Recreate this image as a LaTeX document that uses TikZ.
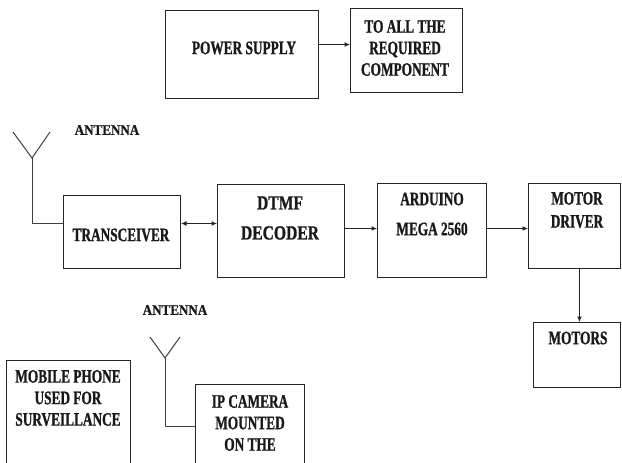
\documentclass[tikz,border=0pt]{standalone}
\usepackage{fontspec}
\usetikzlibrary{arrows.meta,calc}
\newfontfamily\bfont{Liberation Serif Bold}[FakeStretch=0.7,FakeBold=1]
\newfontfamily\dfont{Liberation Serif Bold}[FakeStretch=0.78,FakeBold=1]
\newfontfamily\afont{Liberation Serif Bold}[FakeStretch=0.9,FakeBold=0.8]
\begin{document}
\begin{tikzpicture}[x=1pt,y=-1pt,
  box/.style={draw=black!85,line width=1pt,rectangle,anchor=north west,inner sep=0pt},
  txt/.style={align=center,inner sep=0pt,text=black!90,font=\bfont\fontsize{19}{21.5}\selectfont},
  dtxt/.style={align=center,inner sep=0pt,text=black!90,font=\dfont\fontsize{20}{30}\selectfont},
  atxt/.style={inner sep=0pt,text=black!90,font=\afont\fontsize{14.5}{16}\selectfont},
  arr/.style={draw=black!85,line width=1pt,-{Latex[length=5.5pt,width=5pt]}},
  darr/.style={draw=black!85,line width=1pt,{Latex[length=5.5pt,width=5pt]}-{Latex[length=5.5pt,width=5pt]}},
  wire/.style={draw=black!75,line width=1pt}]
\useasboundingbox (0,0) rectangle (622,463);
\clip (0,0) rectangle (622,463);
\fill[white] (0,0) rectangle (622,463);
% boxes
\node[box,minimum width=153pt,minimum height=88pt] (ps) at (165,10) {};
\node[box,minimum width=112pt,minimum height=84pt] (tall) at (350,8) {};
\node[box,minimum width=117pt,minimum height=73pt] (trx) at (63,195) {};
\node[box,minimum width=127pt,minimum height=93pt] (dtmf) at (217,184) {};
\node[box,minimum width=109pt,minimum height=94pt] (ard) at (377,183) {};
\node[box,minimum width=92pt,minimum height=85pt] (md) at (528,183) {};
\node[box,minimum width=87pt,minimum height=65pt] (mot) at (533,322) {};
\node[box,minimum width=124pt,minimum height=120pt] (mob) at (6,360) {};
\node[box,minimum width=109pt,minimum height=96pt] (ipc) at (195,384) {};
% texts
\node[txt] (pst) at (244,48) {POWER SUPPLY};
\node[txt] (tallt) at (405,48) {TO ALL THE\\REQUIRED\\COMPONENT};
\node[txt] (trxt) at (121,235) {TRANSCEIVER};
\node[dtxt] (dtmft) at (280,218) {DTMF\\DECODER};
\node[txt,font=\bfont\fontsize{19}{30}\selectfont] (ardt) at (432,214) {ARDUINO\\MEGA 2560};
\node[txt,font=\bfont\fontsize{19}{23}\selectfont] (mdt) at (577,210) {MOTOR\\DRIVER};
\node[txt] (mott) at (578,338) {MOTORS};
\node[txt] (mobt) at (68,398) {MOBILE PHONE\\USED FOR\\SURVEILLANCE};
\node[txt] (ipct) at (250,423) {IP CAMERA\\MOUNTED\\ON THE};
\node[atxt] (ant1) at (107,130) {ANTENNA};
\node[atxt] (ant2) at (175,310) {ANTENNA};
% antennas
\coordinate (a1l) at (13,132);
\coordinate (a1t) at (32,158);
\coordinate (a1r) at (50,132);
\coordinate (a2l) at (150,337);
\coordinate (a2t) at (165,358);
\coordinate (a2r) at (180,337);
\draw[wire] (a1l) -- (a1t) -- (a1r);
\draw[wire] (a1t) |- ([yshift=8.5pt]trx.west);
\draw[wire] (a2l) -- (a2t) -- (a2r);
\draw[wire] (a2t) |- ([yshift=6pt]ipc.west);
% connectors
\draw[arr] ([yshift=6pt]ps.east |- tall.west) -- ([yshift=6pt]tall.west);
\draw[darr] ([yshift=8.5pt]trx.east) -- ([yshift=8.5pt]trx.east -| dtmf.west);
\draw[arr] ([yshift=2.5pt]dtmf.east) -- ([yshift=2.5pt]dtmf.east -| ard.west);
\draw[arr] ([yshift=2pt]ard.east) -- ([yshift=2pt]ard.east -| md.west);
\draw[arr] ([xshift=2.5pt]mot.north |- md.south) -- ([xshift=2.5pt]mot.north);
\end{tikzpicture}
\end{document}
